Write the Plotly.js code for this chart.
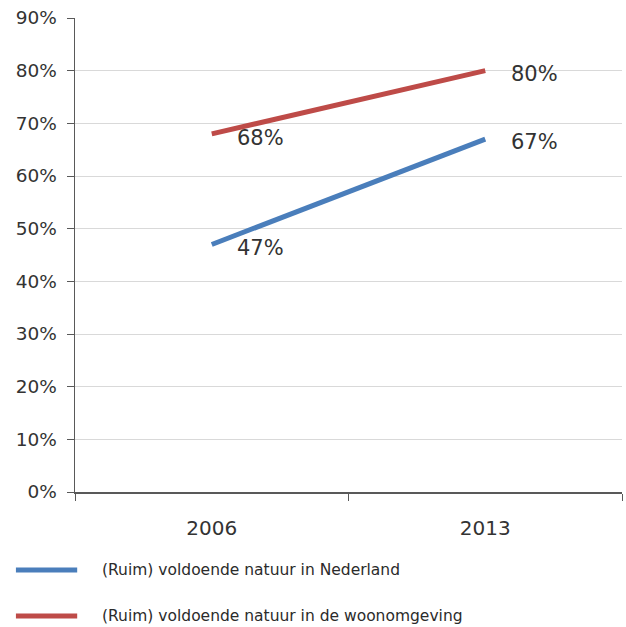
<!DOCTYPE html>
<html>
<head>
<meta charset="utf-8">
<script src="https://cdn.plot.ly/plotly-3.0.1.min.js"></script>
<style>html,body{margin:0;padding:0;background:#fff;}#chart{width:626px;height:627px;}</style>
</head>
<body>
<div id="chart"></div>
<script>
const years = ['2006', '2013'];
const seriesNames = ['(Ruim) voldoende natuur in Nederland', '(Ruim) voldoende natuur in de woonomgeving'];
const nederland = [47, 67];
const woonomgeving = [68, 80];
const yTickVals = [0, 10, 20, 30, 40, 50, 60, 70, 80, 90];
const yTickText = ['0%', '10%', '20%', '30%', '40%', '50%', '60%', '70%', '80%', '90%'];

const colors = ['#4a7ebb', '#be4b48'];
const allSeries = [nederland, woonomgeving];
const font = 'DejaVu Sans, Verdana, sans-serif';

const traces = allSeries.map((vals, i) => ({
  x: years, y: vals, type: 'scatter', mode: 'lines', name: seriesNames[i],
  line: {color: colors[i], width: 5}, showlegend: false, hoverinfo: 'skip'
}));

const annotations = [];
allSeries.forEach((vals, i) => {
  vals.forEach((v, j) => {
    annotations.push({
      x: j, y: v, xref: 'x', yref: 'y', text: v + '%', showarrow: false,
      xanchor: 'left', yanchor: 'middle', xshift: j === 0 ? 23 : 24, yshift: j === 0 ? -4 : -3,
      font: {family: font, size: 21, color: '#333'}
    });
  });
});

// custom legend
const shapes = [];
const legY = [-0.1645, -0.2616];
seriesNames.forEach((n, i) => {
  shapes.push({type: 'line', xref: 'paper', yref: 'paper', x0: -0.108, x1: 0.004, y0: legY[i], y1: legY[i],
    line: {color: colors[i], width: 5}});
  annotations.push({xref: 'paper', yref: 'paper', x: 0.046, y: legY[i], text: n, showarrow: false,
    xanchor: 'left', yanchor: 'middle', font: {family: font, size: 15.5, color: '#2b2b2b'}});
});

const layout = {
  width: 626, height: 627,
  margin: {l: 75, r: 4, t: 18, b: 135},
  paper_bgcolor: '#fff', plot_bgcolor: '#fff',
  font: {family: font, size: 18, color: '#333'},
  showlegend: false,
  xaxis: {
    type: 'category', range: [-0.5, 1.5], tickson: 'boundaries', ticks: 'outside', ticklen: 7,
    tickcolor: '#595959', showline: true, linecolor: '#595959', linewidth: 1.5, showgrid: false,
    zeroline: false, ticklabelstandoff: 17, tickfont: {family: font, size: 20, color: '#333'}, fixedrange: true
  },
  yaxis: {
    range: [0, 90], tickvals: yTickVals, ticktext: yTickText, ticks: 'outside', ticklen: 7,
    tickcolor: '#595959', showline: true, linecolor: '#595959', linewidth: 1.5, showgrid: true,
    gridcolor: '#d9d9d9', gridwidth: 1, zeroline: false, ticklabelstandoff: 6,
    tickfont: {family: font, size: 18.5, color: '#333'}, fixedrange: true
  },
  shapes: shapes,
  annotations: annotations
};

Plotly.newPlot('chart', traces, layout, {displayModeBar: false, staticPlot: true});
</script>
</body>
</html>
